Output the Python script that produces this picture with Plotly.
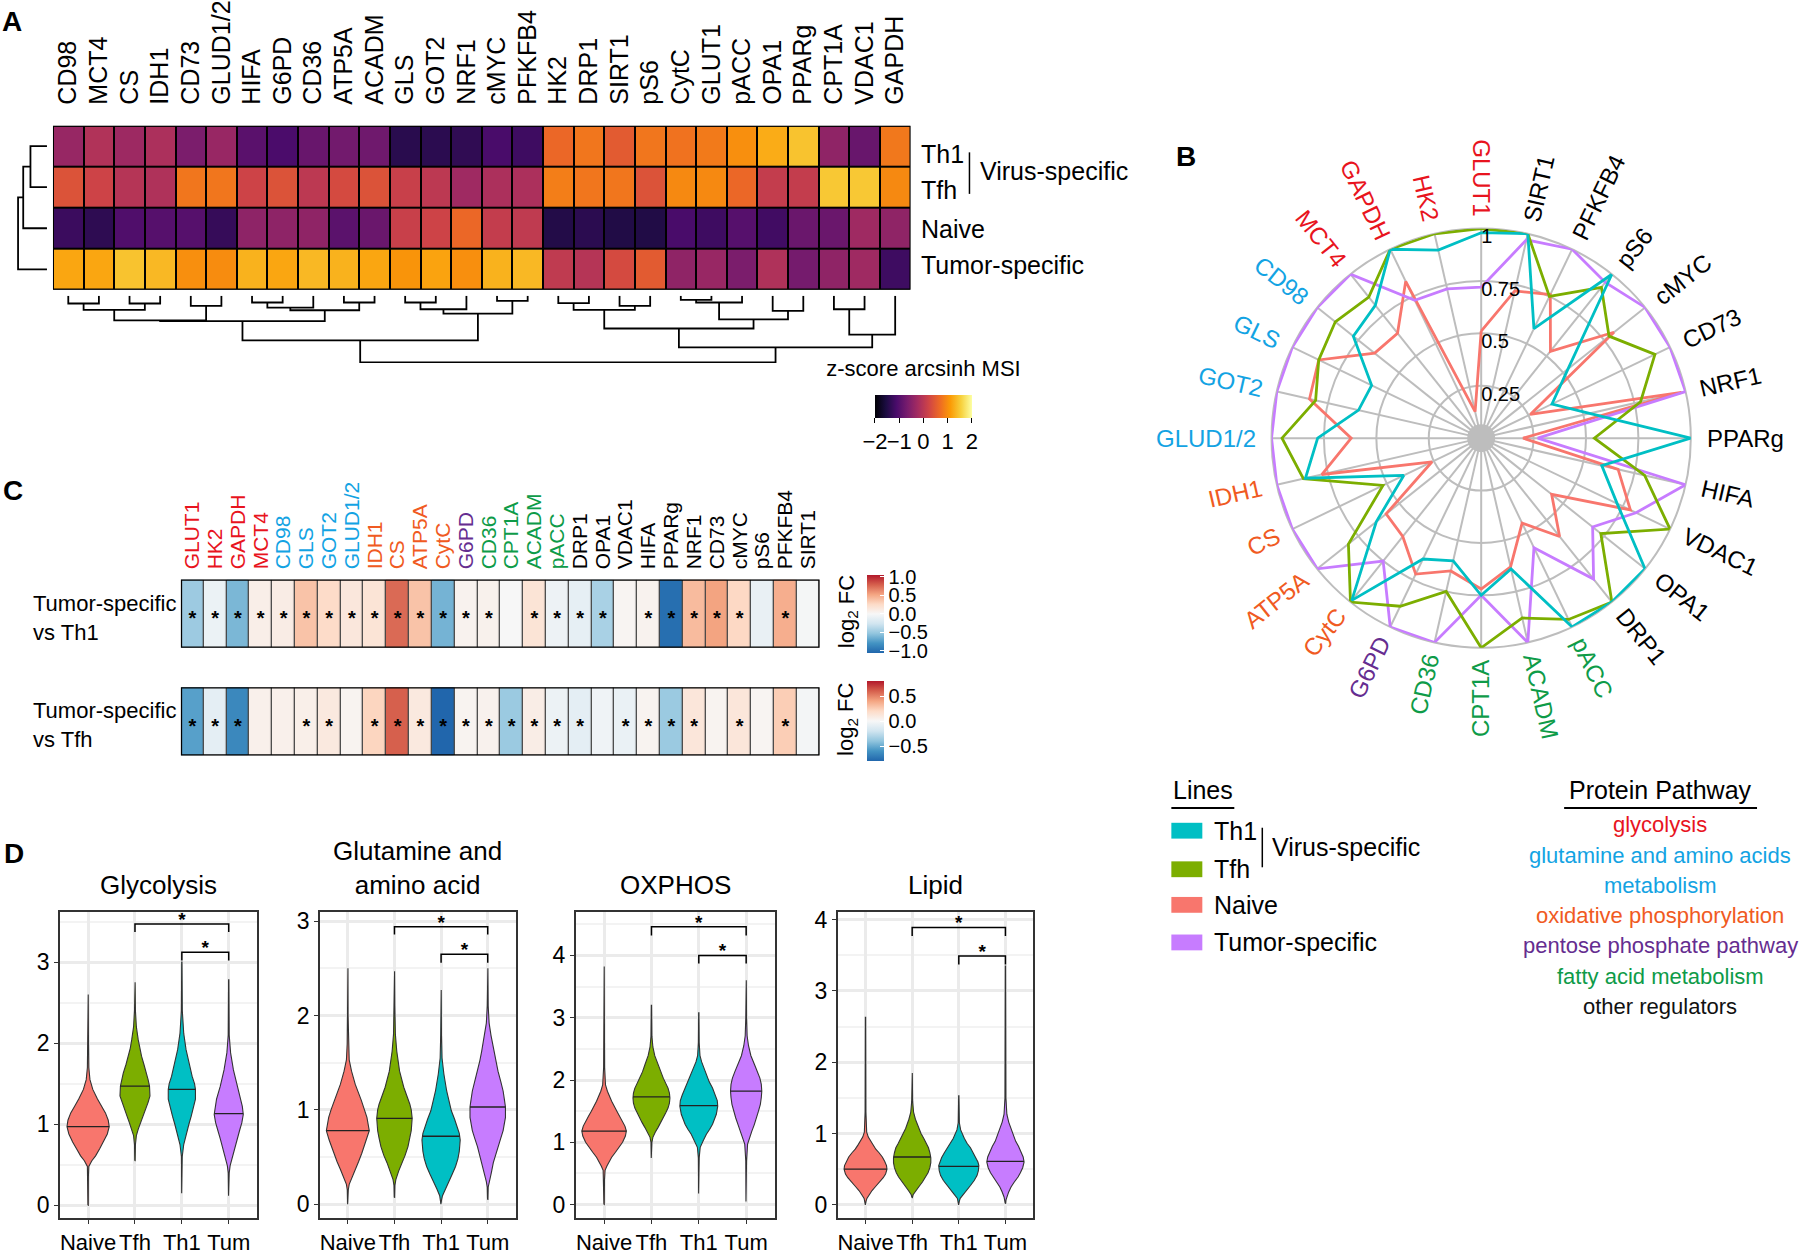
import numpy as np
import plotly.graph_objects as go

W, H = 1800, 1255
FONT = "Liberation Sans, Arial, Helvetica, sans-serif"


def xp(px):
    return px / W


def yp(py):
    return 1 - py / H


# ======================= DATA =======================
# ---- Panel A : z-score arcsinh MSI heatmap ----
a_proteins = ["CD98", "MCT4", "CS", "IDH1", "CD73", "GLUD1/2", "HIFA", "G6PD", "CD36", "ATP5A",
              "ACADM", "GLS", "GOT2", "NRF1", "cMYC", "PFKFB4", "HK2", "DRP1", "SIRT1", "pS6",
              "CytC", "GLUT1", "pACC", "OPA1", "PPARg", "CPT1A", "VDAC1", "GAPDH"]
a_rows = ["Th1", "Tfh", "Naive", "Tumor-specific"]
a_z_th1 = [-0.36, -0.10, -0.30, -0.15, -0.64, -0.35, -0.96, -1.10, -0.82, -0.72,
           -0.75, -1.42, -1.40, -1.36, -1.12, -1.22, 0.64, 0.78, 0.50, 0.78,
           0.75, 0.82, 1.00, 1.25, 1.44, -0.44, -0.82, 0.80]
a_z_tfh = [0.40, 0.20, -0.05, -0.12, 0.78, 0.78, 0.20, 0.40, 0.02, 0.30,
           0.40, 0.15, 0.02, -0.28, -0.15, -0.15, 0.85, 0.78, 0.78, 0.40,
           0.95, 0.95, 0.64, 0.10, 0.10, 1.48, 1.48, 0.95]
a_z_naive = [-1.25, -1.38, -1.05, -1.00, -1.00, -1.30, -0.45, -0.45, -0.44, -0.95,
             -0.80, 0.15, 0.20, 0.64, 0.10, 0.05, -1.48, -1.40, -1.50, -1.50,
             -1.12, -1.22, -1.00, -1.20, -0.80, -0.80, -0.28, -0.44]
a_z_tumor = [1.20, 1.20, 1.44, 1.35, 1.00, 0.98, 1.30, 1.20, 1.35, 1.30,
             1.20, 1.05, 1.18, 1.00, 1.30, 1.35, 0.05, -0.05, 0.30, 0.50,
             -0.44, -0.35, -0.64, -0.12, -0.70, -0.44, -0.28, -1.22]
# column dendrogram merges (left id, right id, height); ids >= 28 are earlier merges
a_col_merges = [(0, 1, 23), (2, 3, 23), (28, 29, 42), (4, 5, 30), (30, 31, 73), (6, 7, 20),
                (33, 8, 35), (9, 10, 20), (34, 35, 43), (32, 36, 75), (11, 12, 20), (38, 13, 40),
                (14, 15, 15), (39, 40, 53), (37, 41, 132), (16, 17, 22), (18, 19, 30), (43, 44, 42),
                (20, 21, 12), (46, 22, 20), (23, 24, 45), (47, 48, 70), (45, 49, 97), (25, 26, 40),
                (51, 27, 115), (50, 52, 153), (42, 53, 197)]
a_row_merges = [(0, 1, 16), (4, 2, 23), (5, 3, 28)]
a_cbar_ticks = [-2, -1, 0, 1, 2]

# ---- Panel B : radar ----
b_proteins = ["GLUT1", "SIRT1", "PFKFB4", "pS6", "cMYC", "CD73", "NRF1", "PPARg", "HIFA", "VDAC1",
              "OPA1", "DRP1", "pACC", "ACADM", "CPT1A", "CD36", "G6PD", "CytC", "ATP5A", "CS",
              "IDH1", "GLUD1/2", "GOT2", "GLS", "CD98", "MCT4", "GAPDH", "HK2"]
b_th1 = [0.98, 1.0, 0.58, 1.0, 0.53, 0.375, 0.53, 1.0, 0.59, 0.72, 1.0, 1.0, 1.0, 0.64, 0.75,
         0.60, 0.64, 0.99, 0.64, 0.41, 0.86, 0.78, 0.60, 0.58, 0.78, 0.81, 1.0, 0.92]
b_tfh = [1.0, 1.0, 0.75, 0.92, 0.78, 0.92, 0.78, 0.54, 0.80, 1.0, 0.73, 1.0, 0.96, 0.88, 1.0,
         0.75, 0.89, 1.0, 0.81, 0.52, 0.87, 0.95, 0.81, 0.86, 0.89, 0.86, 1.0, 1.0]
b_naive = [0.51, 0.72, 0.76, 0.53, 0.81, 0.26, 0.98, 0.20, 0.67, 0.79, 0.43, 0.60, 0.45, 0.63, 0.72,
           0.65, 0.72, 0.60, 0.58, 0.26, 0.78, 0.62, 0.84, 0.86, 0.65, 0.64, 0.83, 0.13]
b_tumor = [0.72, 0.97, 1.0, 0.95, 1.0, 1.0, 1.0, 0.27, 1.0, 0.82, 0.68, 0.86, 0.58, 1.0, 0.75,
           1.0, 1.0, 0.75, 1.0, 1.0, 1.0, 1.0, 1.0, 1.0, 1.0, 1.0, 0.73, 0.73]
b_radial_ticks = [0.25, 0.5, 0.75, 1]
b_radial_text = ["0.25", "0.5", "0.75", "1"]

line_names = ["Th1", "Tfh", "Naive", "Tumor-specific"]
line_colors = ["#00bfc4", "#7cae00", "#f8766d", "#c77cff"]

# ---- pathways ----
pathway_names = ["glycolysis", "glutamine and amino acids", "oxidative phosphorylation",
                 "pentose phosphate pathway", "fatty acid metabolism", "other regulators"]
pathway_colors = ["#e8141e", "#13a3e3", "#f05a22", "#652d90", "#0e9b48", "#111111"]
glycolysis_set = ["GLUT1", "HK2", "GAPDH", "MCT4"]
glutamine_set = ["CD98", "GLS", "GOT2", "GLUD1/2"]
oxphos_set = ["IDH1", "CS", "ATP5A", "CytC"]
ppp_set = ["G6PD"]
fatty_set = ["CD36", "CPT1A", "ACADM", "pACC"]

# ---- Panel C : log2 FC ----
c_proteins = ["GLUT1", "HK2", "GAPDH", "MCT4", "CD98", "GLS", "GOT2", "GLUD1/2", "IDH1", "CS",
              "ATP5A", "CytC", "G6PD", "CD36", "CPT1A", "ACADM", "pACC", "DRP1", "OPA1", "VDAC1",
              "HIFA", "PPARg", "NRF1", "CD73", "cMYC", "pS6", "PFKFB4", "SIRT1"]
c_fc_vs_th1 = [-0.48, -0.08, -0.60, 0.08, 0.10, 0.38, 0.25, 0.15, 0.18, 0.75,
               0.38, -0.62, 0.05, 0.06, 0.00, 0.18, -0.07, -0.12, -0.43, 0.03,
               0.05, -1.00, 0.42, 0.53, 0.27, -0.10, 0.48, -0.02]
c_sig_vs_th1 = [1, 1, 1, 1, 1, 1, 1, 1, 1, 1, 1, 1, 1, 1, 0, 1, 1, 1, 1, 0, 1, 1, 1, 1, 1, 0, 1, 0]
c_fc_vs_tfh = [-0.55, -0.10, -0.65, 0.05, 0.05, 0.06, 0.10, 0.03, 0.22, 0.60,
               0.10, -0.80, 0.03, 0.04, -0.37, 0.07, -0.06, -0.10, -0.04, -0.07,
               0.03, -0.37, 0.12, 0.03, 0.12, 0.02, 0.25, -0.02]
c_sig_vs_tfh = [1, 1, 1, 0, 0, 1, 1, 0, 1, 1, 1, 1, 1, 1, 1, 1, 1, 1, 0, 1, 1, 1, 1, 0, 1, 0, 1, 0]
c_rows = ["Tumor-specific<br>vs Th1", "Tumor-specific<br>vs Tfh"]
c_scale = [[0, "#2166ac"], [0.125, "#4393c3"], [0.25, "#92c5de"], [0.375, "#d1e5f0"],
           [0.5, "#f7f7f7"], [0.625, "#fddbc7"], [0.75, "#f4a582"], [0.875, "#d6604d"], [1, "#b2182b"]]

# ---- Panel D : violins (profiles: level, half-width in category units) ----
d_groups = ["Naive", "Tfh", "Th1", "Tum"]
d_colors = ["#f8766d", "#7cae00", "#00bfc4", "#c77cff"]
d_titles = ["Glycolysis", "Glutamine and<br>amino acid", "OXPHOS", "Lipid"]
d_yranges = [[-0.16, 3.62], [-0.15, 3.1], [-0.22, 4.7], [-0.19, 4.11]]
d_ytick_max = [3, 3, 4, 4]

gly_naive_y = [0.0, 0.35, 0.48, 0.55, 0.61, 0.7, 0.78, 0.88, 0.97, 1.05, 1.14, 1.22, 1.31, 1.43, 1.55, 1.7, 2.1, 2.6]
gly_naive_w = [0.004, 0.006, 0.015, 0.08, 0.16, 0.25, 0.33, 0.41, 0.45, 0.43, 0.37, 0.29, 0.2, 0.1, 0.04, 0.015, 0.007, 0.003]
gly_tfh_y = [0.55, 0.75, 0.86, 0.94, 1.02, 1.1, 1.18, 1.27, 1.35, 1.47, 1.55, 1.63, 1.74, 1.84, 1.94, 2.04, 2.2, 2.4, 2.75]
gly_tfh_w = [0.004, 0.01, 0.03, 0.07, 0.12, 0.17, 0.22, 0.28, 0.32, 0.31, 0.28, 0.25, 0.19, 0.14, 0.1, 0.07, 0.03, 0.01, 0.003]
gly_th1_y = [0.15, 0.6, 0.75, 0.9, 1.0, 1.1, 1.2, 1.31, 1.43, 1.5, 1.59, 1.76, 1.92, 2.12, 2.4, 3.0]
gly_th1_w = [0.004, 0.008, 0.04, 0.1, 0.15, 0.2, 0.25, 0.29, 0.29, 0.27, 0.22, 0.15, 0.09, 0.04, 0.01, 0.003]
gly_tum_y = [0.12, 0.4, 0.49, 0.61, 0.72, 0.82, 0.92, 1.02, 1.12, 1.22, 1.31, 1.47, 1.67, 1.88, 2.1, 2.78]
gly_tum_w = [0.004, 0.01, 0.03, 0.08, 0.13, 0.18, 0.23, 0.28, 0.31, 0.29, 0.26, 0.18, 0.1, 0.04, 0.01, 0.003]
gly_medians = [0.97, 1.47, 1.43, 1.13]

glu_naive_y = [0.0, 0.15, 0.21, 0.29, 0.37, 0.45, 0.54, 0.68, 0.78, 0.92, 1.0, 1.1, 1.27, 1.41, 1.53, 1.7, 2.0, 2.5]
glu_naive_w = [0.004, 0.01, 0.03, 0.09, 0.16, 0.23, 0.3, 0.4, 0.46, 0.41, 0.36, 0.29, 0.16, 0.08, 0.03, 0.012, 0.006, 0.003]
glu_tfh_y = [0.07, 0.2, 0.26, 0.35, 0.44, 0.52, 0.61, 0.7, 0.78, 0.91, 1.0, 1.06, 1.15, 1.24, 1.41, 1.62, 1.8, 2.1, 2.47]
glu_tfh_w = [0.004, 0.01, 0.03, 0.09, 0.16, 0.23, 0.29, 0.33, 0.36, 0.38, 0.36, 0.33, 0.27, 0.2, 0.11, 0.05, 0.02, 0.008, 0.003]
glu_th1_y = [0.0, 0.05, 0.09, 0.16, 0.23, 0.32, 0.4, 0.48, 0.56, 0.68, 0.75, 0.82, 0.9, 0.99, 1.1, 1.2, 1.38, 1.55, 1.8, 2.27]
glu_th1_w = [0.004, 0.012, 0.03, 0.09, 0.16, 0.24, 0.31, 0.36, 0.39, 0.41, 0.39, 0.35, 0.29, 0.22, 0.16, 0.12, 0.06, 0.02, 0.008, 0.003]
glu_tum_y = [0.05, 0.18, 0.24, 0.34, 0.44, 0.52, 0.61, 0.7, 0.78, 0.92, 1.03, 1.1, 1.2, 1.3, 1.41, 1.52, 1.62, 1.79, 1.92, 2.1, 2.5]
glu_tum_w = [0.004, 0.01, 0.03, 0.08, 0.12, 0.17, 0.22, 0.28, 0.33, 0.38, 0.38, 0.36, 0.33, 0.28, 0.22, 0.17, 0.13, 0.07, 0.03, 0.01, 0.003]
glu_medians = [0.78, 0.91, 0.72, 1.03]

ox_naive_y = [0.0, 0.4, 0.55, 0.62, 0.7, 0.76, 0.84, 0.92, 1.0, 1.1, 1.18, 1.26, 1.34, 1.42, 1.5, 1.66, 1.82, 1.92, 2.2, 3.82]
ox_naive_w = [0.004, 0.008, 0.02, 0.06, 0.11, 0.16, 0.24, 0.32, 0.39, 0.45, 0.47, 0.44, 0.39, 0.33, 0.27, 0.16, 0.07, 0.03, 0.01, 0.003]
ox_tfh_y = [0.75, 1.0, 1.08, 1.16, 1.24, 1.32, 1.39, 1.47, 1.55, 1.63, 1.71, 1.79, 1.87, 1.95, 2.03, 2.13, 2.24, 2.39, 2.53, 2.7, 3.2]
ox_tfh_w = [0.004, 0.01, 0.03, 0.08, 0.14, 0.2, 0.25, 0.3, 0.35, 0.38, 0.39, 0.38, 0.35, 0.3, 0.25, 0.19, 0.14, 0.07, 0.03, 0.01, 0.003]
ox_th1_y = [0.18, 0.75, 0.92, 1.02, 1.13, 1.21, 1.29, 1.37, 1.45, 1.58, 1.67, 1.76, 1.87, 1.97, 2.13, 2.29, 2.39, 2.6, 3.08]
ox_th1_w = [0.004, 0.008, 0.03, 0.09, 0.16, 0.23, 0.29, 0.33, 0.37, 0.4, 0.39, 0.35, 0.29, 0.22, 0.14, 0.06, 0.025, 0.008, 0.003]
ox_tum_y = [0.05, 0.7, 0.97, 1.07, 1.18, 1.28, 1.39, 1.5, 1.61, 1.72, 1.82, 1.93, 2.03, 2.13, 2.24, 2.39, 2.55, 2.71, 3.0, 3.6]
ox_tum_w = [0.004, 0.008, 0.03, 0.07, 0.12, 0.17, 0.22, 0.26, 0.3, 0.32, 0.33, 0.32, 0.29, 0.24, 0.18, 0.1, 0.05, 0.02, 0.008, 0.003]
ox_medians = [1.18, 1.73, 1.59, 1.82]

lip_naive_y = [0.0, 0.05, 0.09, 0.14, 0.2, 0.26, 0.32, 0.38, 0.43, 0.5, 0.55, 0.61, 0.67, 0.73, 0.78, 0.84, 0.95, 1.02, 1.3, 2.63]
lip_naive_w = [0.004, 0.012, 0.03, 0.08, 0.14, 0.22, 0.31, 0.38, 0.43, 0.46, 0.45, 0.41, 0.36, 0.29, 0.22, 0.16, 0.06, 0.025, 0.008, 0.003]
lip_tfh_y = [0.1, 0.14, 0.2, 0.25, 0.32, 0.39, 0.45, 0.52, 0.59, 0.66, 0.73, 0.8, 0.86, 0.93, 1.0, 1.07, 1.2, 1.3, 1.45, 1.85]
lip_tfh_w = [0.004, 0.02, 0.08, 0.14, 0.22, 0.29, 0.34, 0.38, 0.4, 0.4, 0.38, 0.35, 0.3, 0.25, 0.19, 0.14, 0.07, 0.03, 0.01, 0.003]
lip_th1_y = [0.0, 0.05, 0.09, 0.14, 0.2, 0.27, 0.34, 0.41, 0.48, 0.55, 0.6, 0.66, 0.73, 0.8, 0.86, 0.93, 1.05, 1.15, 1.53]
lip_th1_w = [0.004, 0.012, 0.03, 0.09, 0.16, 0.25, 0.33, 0.39, 0.42, 0.43, 0.41, 0.37, 0.31, 0.25, 0.18, 0.12, 0.04, 0.012, 0.003]
lip_tum_y = [0.02, 0.07, 0.11, 0.18, 0.25, 0.32, 0.39, 0.45, 0.52, 0.6, 0.67, 0.75, 0.82, 0.89, 0.96, 1.02, 1.16, 1.27, 1.5, 3.35]
lip_tum_w = [0.004, 0.012, 0.03, 0.07, 0.12, 0.19, 0.27, 0.32, 0.37, 0.4, 0.38, 0.33, 0.28, 0.22, 0.18, 0.14, 0.07, 0.03, 0.01, 0.003]
lip_medians = [0.50, 0.67, 0.54, 0.61]

# significance brackets: (left group pos, right group pos, bar level, tip level)
gly_brackets = [(2, 4, 3.47, 3.37), (3, 4, 3.12, 3.02)]
glu_brackets = [(2, 4, 2.94, 2.86), (3, 4, 2.65, 2.56)]
ox_brackets = [(2, 4, 4.46, 4.32), (3, 4, 4.00, 3.87)]
lip_brackets = [(2, 4, 3.89, 3.77), (3, 4, 3.49, 3.37)]

# ======================= HELPERS =======================
UP_W = dict(zip("ABCDEFGHIJKLMNOPQRSTUVWXYZ",
                [.667, .667, .722, .722, .667, .611, .778, .722, .278, .5, .667, .556, .833, .722,
                 .778, .667, .778, .722, .667, .611, .722, .667, .944, .667, .667, .611]))
LO_W = dict(zip("abcdefghijklmnopqrstuvwxyz",
                [.556, .556, .5, .556, .556, .278, .556, .556, .222, .222, .5, .222, .833, .556,
                 .556, .556, .556, .333, .5, .278, .556, .5, .722, .5, .5, .5]))


def text_w(s, size):
    tot = 0
    for ch in s:
        if ch in UP_W:
            tot += UP_W[ch]
        elif ch in LO_W:
            tot += LO_W[ch]
        elif ch.isdigit():
            tot += 0.556
        elif ch == "/":
            tot += 0.278
        else:
            tot += 0.4
    return tot * size


def pathway_color(p):
    if p in glycolysis_set:
        return pathway_colors[0]
    if p in glutamine_set:
        return pathway_colors[1]
    if p in oxphos_set:
        return pathway_colors[2]
    if p in ppp_set:
        return pathway_colors[3]
    if p in fatty_set:
        return pathway_colors[4]
    return "#000000"


def dendro_segments(n, merges):
    pos = {i: float(i) for i in range(n)}
    hgt = {i: 0.0 for i in range(n)}
    xs, ys = [], []
    for k, (a, b, h) in enumerate(merges):
        xs += [pos[a], pos[a], pos[b], pos[b], None]
        ys += [hgt[a], h, h, hgt[b], None]
        pos[n + k] = (pos[a] + pos[b]) / 2
        hgt[n + k] = h
    return xs, ys


fig = go.Figure()
annotations = []
shapes = []
layout_axes = {}

# ======================= PANEL A =======================
A_X0, A_X1, A_Y0, A_Y1 = 52, 910, 121, 287
n_a = len(a_proteins)
fig.add_trace(go.Heatmap(
    z=[a_z_th1, a_z_tfh, a_z_naive, a_z_tumor], x=list(range(n_a)), y=list(range(4)),
    colorscale="Inferno", zmin=-2, zmax=2, xgap=2, ygap=2, xaxis="x", yaxis="y",
    hoverinfo="skip",
    colorbar=dict(orientation="h", lenmode="pixels", len=97, thickness=23,
                  x=xp(923), xanchor="center", y=yp(368), yanchor="top", xpad=0, ypad=0,
                  outlinewidth=0,
                  title=dict(text="z-score arcsinh MSI", side="top",
                             font=dict(size=22, color="black", family=FONT)),
                  tickvals=a_cbar_ticks, ticktext=["\u22122", "\u22121", "0", "1", "2"],
                  tickangle=0,
                  tickfont=dict(size=22, color="black", family=FONT),
                  ticks="outside", ticklen=5, tickcolor="black")))
layout_axes["xaxis"] = dict(domain=[xp(A_X0), xp(A_X1)], range=[-0.5, n_a - 0.5], side="top",
                            tickvals=list(range(n_a)), ticktext=a_proteins, tickangle=-90,
                            tickfont=dict(size=25, color="black"), ticks="outside", ticklen=15,
                            tickcolor="rgba(0,0,0,0)", showgrid=False, zeroline=False, anchor="y")
layout_axes["yaxis"] = dict(domain=[yp(A_Y1), yp(A_Y0)], range=[3.5, -0.5], showticklabels=False,
                            showgrid=False, zeroline=False, anchor="x")
shapes.append(dict(type="rect", xref="x", yref="y", x0=-0.5, x1=n_a - 0.5, y0=-0.5, y1=3.5,
                   fillcolor="black", line=dict(width=0), layer="below"))
shapes.append(dict(type="rect", xref="x", yref="y", x0=-0.5, x1=n_a - 0.5, y0=-0.5, y1=3.5,
                   fillcolor="rgba(0,0,0,0)", line=dict(color="black", width=2), layer="above"))

# column dendrogram
cx_, cy_ = dendro_segments(n_a, a_col_merges)
fig.add_trace(go.Scatter(x=cx_, y=cy_, mode="lines", line=dict(color="black", width=1.8),
                         xaxis="x2", yaxis="y2", hoverinfo="skip", showlegend=False))
layout_axes["xaxis2"] = dict(domain=[xp(A_X0), xp(A_X1)], range=[-0.5, n_a - 0.5], visible=False, anchor="y2")
layout_axes["yaxis2"] = dict(domain=[yp(361), yp(293)], range=[199, 0], visible=False, anchor="x2")

# row dendrogram
rx_, ry_ = dendro_segments(4, a_row_merges)
fig.add_trace(go.Scatter(x=ry_, y=rx_, mode="lines", line=dict(color="black", width=1.8),
                         xaxis="x3", yaxis="y3", hoverinfo="skip", showlegend=False))
layout_axes["xaxis3"] = dict(domain=[xp(15), xp(46)], range=[30, 0], visible=False, anchor="y3")
layout_axes["yaxis3"] = dict(domain=[yp(A_Y1), yp(A_Y0)], range=[3.5, -0.5], visible=False, anchor="x3")

a_label_shift = [-8, -3, -1, 4]
for i, r in enumerate(a_rows):
    annotations.append(dict(text=r, x=xp(919), y=i, xref="paper", yref="y", xanchor="left",
                            yanchor="middle", yshift=a_label_shift[i], showarrow=False,
                            font=dict(size=25, color="black")))
shapes.append(dict(type="line", xref="paper", yref="paper", x0=xp(969), x1=xp(969),
                   y0=yp(148), y1=yp(190), line=dict(color="black", width=1.5)))
annotations.append(dict(text="Virus-specific", x=xp(978), y=yp(167), xref="paper", yref="paper",
                        xanchor="left", yanchor="middle", showarrow=False,
                        font=dict(size=25, color="black")))

# ======================= PANEL B =======================
R_PX = 212
CX, CY = 1481, 437
fig.add_trace(go.Scatterpolar(r=[0], theta=[b_proteins[0]], mode="markers",
                              marker=dict(size=28, color="#bdbdbd"), subplot="polar",
                              hoverinfo="skip", showlegend=False))
b_vals = [b_th1, b_tfh, b_naive, b_tumor]
for idx in [2, 3, 1, 0]:
    v = b_vals[idx]
    fig.add_trace(go.Scatterpolar(r=v + [v[0]], theta=b_proteins + [b_proteins[0]], mode="lines",
                                  line=dict(color=line_colors[idx], width=2.8), subplot="polar",
                                  cliponaxis=False, hoverinfo="skip", showlegend=False))
fig.add_trace(go.Scatterpolar(r=b_radial_ticks, theta=[b_proteins[0]] * len(b_radial_ticks),
                              mode="text", text=b_radial_text, textposition="bottom right",
                              textfont=dict(size=20, color="black", family=FONT), subplot="polar",
                              cliponaxis=False, hoverinfo="skip", showlegend=False))
n_b = len(b_proteins)
for i, p in enumerate(b_proteins):
    th = 90 - i * 360 / n_b
    thn = ((th + 180) % 360) - 180
    if -90 < thn < 90:
        ta = -thn
    else:
        ta = 180 - thn
    ta = ((ta + 180) % 360) - 180
    w = text_w(p, 24)
    rc = R_PX + 13 + w / 2
    lx = CX + rc * np.cos(np.radians(th))
    ly = CY - rc * np.sin(np.radians(th))
    annotations.append(dict(text=p, x=xp(lx), y=yp(ly), xref="paper", yref="paper",
                            xanchor="center", yanchor="middle", textangle=ta, showarrow=False,
                            font=dict(size=24, color=pathway_color(p))))

# ======================= PANEL C =======================
C_X0, C_X1 = 180, 819
c_rows_px = [(580, 649), (689, 758)]
c_fc = [c_fc_vs_th1, c_fc_vs_tfh]
c_sig = [c_sig_vs_th1, c_sig_vs_tfh]
c_lims = [1.05, 0.8]
c_ticks = [[-1, -0.5, 0, 0.5, 1], [-0.5, 0, 0.5]]
c_ticktext = [["\u22121.0", "\u22120.5", "0.0", "0.5", "1.0"], ["\u22120.5", "0.0", "0.5"]]
c_cbar_len = [78, 80]
n_c = len(c_proteins)
for k in range(2):
    xa, ya = f"x{4 + k}", f"y{4 + k}"
    t0, t1 = c_rows_px[k]
    fig.add_trace(go.Heatmap(
        z=[c_fc[k]], x=list(range(n_c)), y=[0], colorscale=c_scale, zmin=-c_lims[k], zmax=c_lims[k],
        xgap=1.3, ygap=0, xaxis=xa, yaxis=ya, hoverinfo="skip",
        colorbar=dict(lenmode="pixels", len=c_cbar_len[k], thickness=17, x=xp(866), xanchor="left",
                      y=yp((t0 + t1) / 2), yanchor="middle", xpad=0, ypad=0, outlinewidth=0,
                      tickvals=c_ticks[k], ticktext=c_ticktext[k],
                      tickfont=dict(size=20, color="black", family=FONT),
                      ticks="inside", ticklen=4, tickcolor="white")))
    sx = [i for i in range(n_c) if c_sig[k][i]]
    fig.add_trace(go.Scatter(x=sx, y=[-0.1] * len(sx), mode="text", text=["<b>*</b>"] * len(sx),
                             textposition="middle center", textfont=dict(size=20, color="black"),
                             xaxis=xa, yaxis=ya, hoverinfo="skip", showlegend=False))
    xdict = dict(domain=[xp(C_X0), xp(C_X1)], range=[-0.5, n_c - 0.5], showgrid=False,
                 zeroline=False, anchor=ya)
    if k == 0:
        xdict.update(side="top", tickvals=list(range(n_c)),
                     ticktext=[f'<span style="color:{pathway_color(p)}">{p}</span>' for p in c_proteins],
                     tickangle=-90, tickfont=dict(size=21), ticks="outside", ticklen=5,
                     tickcolor="rgba(0,0,0,0)")
    else:
        xdict.update(showticklabels=False)
    layout_axes[f"xaxis{4 + k}"] = xdict
    layout_axes[f"yaxis{4 + k}"] = dict(domain=[yp(t1), yp(t0)], range=[-0.5, 0.5], visible=False,
                                        anchor=xa)
    shapes.append(dict(type="rect", xref=xa, yref=ya, x0=-0.5, x1=n_c - 0.5, y0=-0.5, y1=0.5,
                       fillcolor="#444444", line=dict(width=0), layer="below"))
    shapes.append(dict(type="rect", xref=xa, yref=ya, x0=-0.5, x1=n_c - 0.5, y0=-0.5, y1=0.5,
                       fillcolor="rgba(0,0,0,0)", line=dict(color="black", width=2.5), layer="above"))
    annotations.append(dict(text=c_rows[k], x=xp(30), y=yp((t0 + t1) / 2 + 4), xref="paper",
                            yref="paper", xanchor="left", yanchor="middle", align="left",
                            showarrow=False, font=dict(size=22, color="black")))
    annotations.append(dict(text="log<sub>2</sub> FC", x=xp(847), y=yp((t0 + t1) / 2 - 2),
                            xref="paper", yref="paper", xanchor="center", yanchor="middle",
                            textangle=-90, showarrow=False, font=dict(size=22, color="black")))

# ======================= PANEL D =======================
d_x_px = [(59, 256), (319, 515), (575, 774), (837, 1033)]
D_Y0, D_Y1 = 916, 1226
d_profiles = [
    [(gly_naive_y, gly_naive_w), (gly_tfh_y, gly_tfh_w), (gly_th1_y, gly_th1_w), (gly_tum_y, gly_tum_w)],
    [(glu_naive_y, glu_naive_w), (glu_tfh_y, glu_tfh_w), (glu_th1_y, glu_th1_w), (glu_tum_y, glu_tum_w)],
    [(ox_naive_y, ox_naive_w), (ox_tfh_y, ox_tfh_w), (ox_th1_y, ox_th1_w), (ox_tum_y, ox_tum_w)],
    [(lip_naive_y, lip_naive_w), (lip_tfh_y, lip_tfh_w), (lip_th1_y, lip_th1_w), (lip_tum_y, lip_tum_w)],
]
d_medians = [gly_medians, glu_medians, ox_medians, lip_medians]
d_brackets = [gly_brackets, glu_brackets, ox_brackets, lip_brackets]
for k in range(4):
    n = 6 + k
    xa, ya = f"x{n}", f"y{n}"
    for j in range(4):
        ys, ws = d_profiles[k][j]
        c = j + 1
        px_ = [c - w for w in ws] + [c + w for w in ws[::-1]] + [c - ws[0]]
        py_ = list(ys) + list(ys[::-1]) + [ys[0]]
        fig.add_trace(go.Scatter(x=px_, y=py_, mode="lines", fill="toself", fillcolor=d_colors[j],
                                 line=dict(color="#333333", width=1.1), xaxis=xa, yaxis=ya,
                                 hoverinfo="skip", showlegend=False))
        med = d_medians[k][j]
        wm = float(np.interp(med, ys, ws))
        fig.add_trace(go.Scatter(x=[c - wm, c + wm], y=[med, med], mode="lines",
                                 line=dict(color="#222222", width=1.3), xaxis=xa, yaxis=ya,
                                 hoverinfo="skip", showlegend=False))
    yr = d_yranges[k]
    unit_px = (D_Y1 - D_Y0) / (yr[1] - yr[0])
    for (g1, g2, lvl, tip) in d_brackets[k]:
        fig.add_trace(go.Scatter(x=[g1, g1, g2, g2], y=[tip, lvl, lvl, tip], mode="lines",
                                 line=dict(color="black", width=1.5), xaxis=xa, yaxis=ya,
                                 hoverinfo="skip", showlegend=False))
        fig.add_trace(go.Scatter(x=[(g1 + g2) / 2], y=[lvl + 3 / unit_px], mode="text",
                                 text=["<b>*</b>"], textposition="middle center",
                                 textfont=dict(size=19, color="black"), xaxis=xa, yaxis=ya,
                                 cliponaxis=False, hoverinfo="skip", showlegend=False))
    x0, x1 = d_x_px[k]
    layout_axes[f"xaxis{n}"] = dict(domain=[xp(x0), xp(x1)], range=[0.4, 4.6], tickvals=[1, 2, 3, 4],
                                    ticktext=d_groups, tickangle=0,
                                    tickfont=dict(size=22, color="black"),
                                    showgrid=True, gridcolor="#ebebeb", gridwidth=3, zeroline=False,
                                    showline=True, mirror=True, linecolor="#333333", linewidth=1.5,
                                    ticks="outside", ticklen=4, tickcolor="#333333", anchor=ya)
    layout_axes[f"yaxis{n}"] = dict(domain=[yp(D_Y1), yp(D_Y0)], range=yr,
                                    tickvals=list(range(d_ytick_max[k] + 1)),
                                    tickfont=dict(size=23, color="black"),
                                    showgrid=True, gridcolor="#ebebeb", gridwidth=3,
                                    minor=dict(dtick=0.5, tick0=0, showgrid=True, gridcolor="#f3f3f3",
                                               gridwidth=1.5),
                                    zeroline=False, showline=True, mirror=True, linecolor="#333333",
                                    linewidth=1.5, ticks="outside", ticklen=4, tickcolor="#333333",
                                    anchor=xa)
    annotations.append(dict(text=d_titles[k], x=xp((x0 + x1) / 2), y=yp(906), xref="paper",
                            yref="paper", xanchor="center", yanchor="bottom", showarrow=False,
                            font=dict(size=26, color="black")))

# ======================= LEGENDS =======================
annotations.append(dict(text="Lines", x=xp(1171), y=yp(793), xref="paper", yref="paper",
                        xanchor="left", yanchor="middle", showarrow=False,
                        font=dict(size=25, color="black")))
shapes.append(dict(type="line", xref="paper", yref="paper", x0=xp(1171), x1=xp(1234),
                   y0=yp(811), y1=yp(811), line=dict(color="black", width=2)))
leg_y = [834, 873, 909, 947]
for i, (nm, col) in enumerate(zip(line_names, line_colors)):
    shapes.append(dict(type="rect", xref="paper", yref="paper", x0=xp(1171), x1=xp(1202),
                       y0=yp(leg_y[i] + 8), y1=yp(leg_y[i] - 8), fillcolor=col, line=dict(width=0)))
    annotations.append(dict(text=nm, x=xp(1212), y=yp(leg_y[i]), xref="paper", yref="paper",
                            xanchor="left", yanchor="middle", showarrow=False,
                            font=dict(size=25, color="black")))
shapes.append(dict(type="line", xref="paper", yref="paper", x0=xp(1262), x1=xp(1262),
                   y0=yp(831), y1=yp(871), line=dict(color="black", width=1.5)))
annotations.append(dict(text="Virus-specific", x=xp(1270), y=yp(850), xref="paper", yref="paper",
                        xanchor="left", yanchor="middle", showarrow=False,
                        font=dict(size=25, color="black")))

annotations.append(dict(text="Protein Pathway", x=xp(1660), y=yp(793), xref="paper", yref="paper",
                        xanchor="center", yanchor="middle", showarrow=False,
                        font=dict(size=25, color="black")))
shapes.append(dict(type="line", xref="paper", yref="paper", x0=xp(1564), x1=xp(1757),
                   y0=yp(811), y1=yp(811), line=dict(color="black", width=2)))
pw_lines = []
for nm, col in zip(pathway_names, pathway_colors):
    if nm == "glutamine and amino acids":
        pw_lines.append((nm, col))
        pw_lines.append(("metabolism", col))
    else:
        pw_lines.append((nm, col))
for i, (nm, col) in enumerate(pw_lines):
    annotations.append(dict(text=nm, x=xp(1660), y=yp(828 + i * 30.6), xref="paper", yref="paper",
                            xanchor="center", yanchor="middle", showarrow=False,
                            font=dict(size=22, color=col)))

# panel letters
for letter, (lx, ly) in zip("ABCD", [(11, 16), (1186, 152), (12, 490), (13, 857)]):
    annotations.append(dict(text=f"<b>{letter}</b>", x=xp(lx), y=yp(ly), xref="paper", yref="paper",
                            xanchor="center", yanchor="middle", showarrow=False,
                            font=dict(size=28, color="black")))

fig.update_layout(
    width=W, height=H, margin=dict(l=0, r=0, t=0, b=0),
    paper_bgcolor="white", plot_bgcolor="white",
    font=dict(family=FONT, color="black"),
    showlegend=False,
    polar=dict(
        domain=dict(x=[xp(CX - R_PX), xp(CX + R_PX)], y=[yp(CY + R_PX), yp(CY - R_PX)]),
        bgcolor="white",
        angularaxis=dict(type="category", categoryorder="array", categoryarray=b_proteins,
                         direction="clockwise", rotation=90, showticklabels=False, ticks="",
                         showgrid=True, gridcolor="#bdbdbd", gridwidth=2, showline=True,
                         linecolor="#bdbdbd", linewidth=2, layer="below traces"),
        radialaxis=dict(range=[0, 1], tickvals=[0.25, 0.5, 0.75], showticklabels=False, ticks="",
                        showgrid=True, gridcolor="#bdbdbd", gridwidth=2, showline=False,
                        layer="below traces"),
    ),
    annotations=annotations,
    shapes=shapes,
    **layout_axes,
)

fig.write_html("out.html", config={"displayModeBar": False},
               post_script="document.body.style.margin='0';")
